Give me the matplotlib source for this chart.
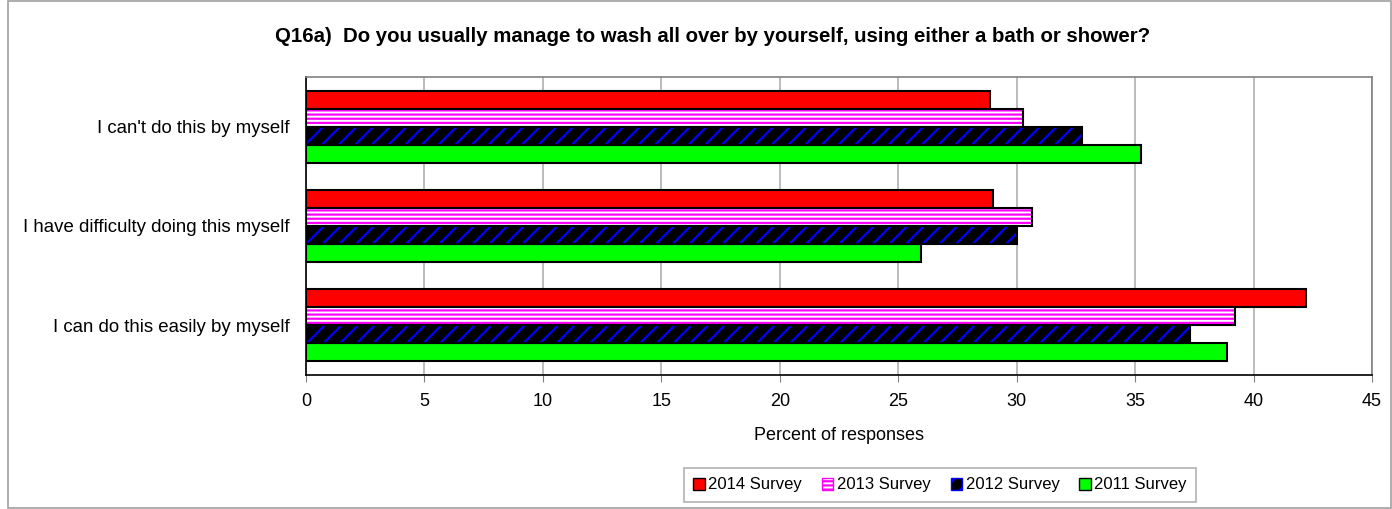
import matplotlib
matplotlib.use("Agg")
import matplotlib.pyplot as plt
import numpy as np
from matplotlib.patches import Patch, Rectangle

plt.rcParams['font.family'] = ['Liberation Sans', 'DejaVu Sans']
plt.rcParams['hatch.linewidth'] = 1.6

# Data
categories = ["I can't do this by myself",
              "I have difficulty doing this myself",
              "I can do this easily by myself"]
series = ["2014 Survey", "2013 Survey", "2012 Survey", "2011 Survey"]
vals_2014 = [28.88, 28.99, 42.23]
vals_2013 = [30.25, 30.63, 39.22]
vals_2012 = [32.77, 30.03, 37.33]
vals_2011 = [35.26, 25.95, 38.89]
xticks = [0, 5, 10, 15, 20, 25, 30, 35, 40, 45]

fig = plt.figure(figsize=(13.92, 5.09), dpi=100)
ax = fig.add_axes([0.2198, 0.2633, 0.7658, 0.5854])

# figure border
fig.patches.append(Rectangle((8 / 1392, 0.002), 1 - 9 / 1392, 0.996,
                             transform=fig.transFigure, fill=False,
                             edgecolor='#a0a0a0', linewidth=1.2))

y = np.arange(len(categories))
h = 0.182
offsets = [-1.5 * h, -0.5 * h, 0.5 * h, 1.5 * h]

# 2014: solid red
ax.barh(y + offsets[0], vals_2014, height=h, color='#ff0000',
        edgecolor='black', linewidth=1.5, zorder=3)
# 2013: magenta horizontal stripes on white
ax.barh(y + offsets[1], vals_2013, height=h, color='white',
        edgecolor='#ff00ff', hatch='----', linewidth=0, zorder=3)
ax.barh(y + offsets[1], vals_2013, height=h, color='none',
        edgecolor='black', linewidth=1.5, zorder=4)
# 2012: blue diagonal stripes on black
ax.barh(y + offsets[2], vals_2012, height=h, color='black',
        edgecolor='#0000ff', hatch='//', linewidth=0, zorder=3)
ax.barh(y + offsets[2], vals_2012, height=h, color='none',
        edgecolor='black', linewidth=1.5, zorder=4)
# 2011: solid green
ax.barh(y + offsets[3], vals_2011, height=h, color='#00ff00',
        edgecolor='black', linewidth=1.5, zorder=3)

ax.set_xlim(0, 45)
ax.set_ylim(len(categories) - 0.5, -0.5)
ax.set_xticks(xticks)
ax.set_xticklabels([str(t) for t in xticks], fontsize=13)
ax.set_yticks(y)
ax.set_yticklabels(categories, fontsize=13.4)
ax.tick_params(axis='y', length=0, pad=12)
ax.tick_params(axis='x', length=5, pad=8, color='#808080')
ax.grid(axis='x', color='#b0b0b0', linewidth=1.2, zorder=0)
for s in ax.spines.values():
    s.set_color('#808080')
    s.set_linewidth(1.2)
ax.spines['left'].set_color('black')
ax.spines['bottom'].set_color('black')

ax.set_xlabel('Percent of responses', fontsize=13, labelpad=12)
fig.text(713 / 1392, 1 - 37 / 509,
         'Q16a)  Do you usually manage to wash all over by yourself, using either a bath or shower?',
         ha='center', va='center', fontsize=14.7, fontweight='bold')

handles = [
    Patch(facecolor='#ff0000', edgecolor='black'),
    Patch(facecolor='white', edgecolor='#ff00ff', hatch='----'),
    Patch(facecolor='black', edgecolor='#0000ff', hatch='//'),
    Patch(facecolor='#00ff00', edgecolor='black'),
]
leg = fig.legend(handles, series, loc='center', ncol=4,
                 bbox_to_anchor=(940 / 1392, 1 - 485 / 509),
                 fontsize=12, frameon=True, fancybox=False,
                 handlelength=0.7, handleheight=0.7, handletextpad=0.2,
                 columnspacing=1.2, borderpad=0.55)
leg.get_frame().set_edgecolor('#a0a0a0')
leg.get_frame().set_linewidth(1.2)

fig.savefig('out.png', dpi=100)
